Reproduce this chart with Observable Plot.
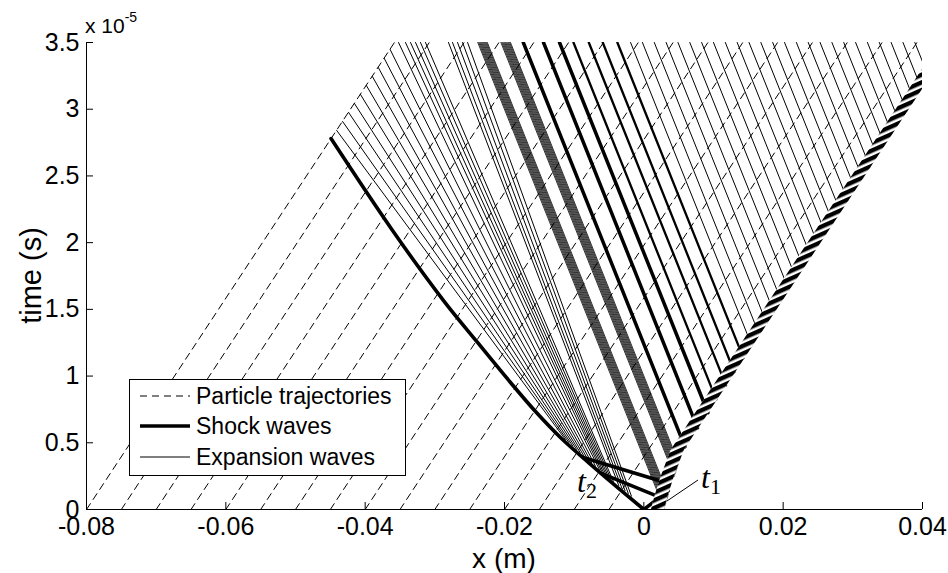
<!DOCTYPE html>
<html><head><meta charset="utf-8">
<script src="https://cdn.jsdelivr.net/npm/d3@7"></script>
<script src="https://cdn.jsdelivr.net/npm/@observablehq/plot@0.6"></script>
<style>body{margin:0;background:#fff}#chart{width:948px;height:573px}</style>
</head><body><div id="chart"></div>
<script>
// ---------- data (x in m, t in units of 1e-5 s) ----------
const xTicks = [-0.08, -0.06, -0.04, -0.02, 0, 0.02, 0.04];
const xTickLabels = ["-0.08", "-0.06", "-0.04", "-0.02", "0", "0.02", "0.04"];
const yTicks = [0, 0.5, 1, 1.5, 2, 2.5, 3, 3.5];
const yTickLabels = ["0", "0.5", "1", "1.5", "2", "2.5", "3", "3.5"];

// particle trajectories: position at t = 0 and at t = 3.5
const particleStartX = [-0.080, -0.075, -0.070, -0.065, -0.060, -0.055, -0.050, -0.045, -0.040, -0.035, -0.030, -0.025, -0.020, -0.015, -0.010, -0.005];
const particleEndX = [-0.0358, -0.0308, -0.0258, -0.0208, -0.0158, -0.0108, -0.0058, -0.0008, 0.0042, 0.0092, 0.0142, 0.0192, 0.0242, 0.0292, 0.0342, 0.0392];

// leading shock
const leadShockX = [0, -0.00392, -0.00794, -0.01182, -0.01555, -0.01914, -0.02387, -0.02875, -0.03607, -0.0449];
const leadShockT = [0, 0.172, 0.352, 0.532, 0.734, 0.952, 1.252, 1.566, 2.091, 2.780];

// piston (right boundary)
const pistonX = [0.0030, 0.0035, 0.0043, 0.0058, 0.0402, 0.0444];
const pistonT = [0, 0.10, 0.232, 0.442, 3.163, 3.5];

// shock waves in the fan: start (x,t) -> x at top
const fanShockStartX = [0.0059, 0.0077, 0.0092];
const fanShockStartT = [0.470, 0.611, 0.725];
const fanShockTopX = [-0.0173, -0.0144, -0.0121];
const weakShockStartX = [0.0104, 0.0118, 0.0130, 0.0143];
const weakShockStartT = [0.824, 0.930, 1.029, 1.134];
const weakShockTopX = [-0.0101, -0.0079, -0.0059, -0.0038];
// short shocks near the origin: start -> end
const lowShockStartX = [0, 0.0028, 0.0036];
const lowShockStartT = [0, 0.082, 0.195];
const lowShockEndX = [0.0035, -0.0061, -0.0087];
const lowShockEndT = [0.14, 0.270, 0.390];

// expansion waves leaving the piston: start (x,t) -> x at top
const pistonWaveStartX = [0.01551, 0.01657, 0.01763, 0.01868, 0.01974, 0.02081, 0.02187, 0.02292, 0.02398, 0.02504, 0.02610, 0.02715, 0.02821, 0.02927, 0.03034, 0.03139, 0.03245, 0.03351, 0.03456, 0.03562, 0.03668, 0.03774, 0.03879, 0.03985, 0.04092, 0.04198];
const pistonWaveStartT = [1.227, 1.311, 1.395, 1.478, 1.562, 1.646, 1.730, 1.813, 1.897, 1.981, 2.065, 2.148, 2.232, 2.316, 2.400, 2.483, 2.567, 2.651, 2.734, 2.818, 2.902, 2.986, 3.069, 3.153, 3.237, 3.321];
const pistonWaveTopX = [-0.0019, -0.0002, 0.0015, 0.0032, 0.0049, 0.0066, 0.0083, 0.0100, 0.0117, 0.0134, 0.0151, 0.0168, 0.0185, 0.0202, 0.0219, 0.0236, 0.0253, 0.0270, 0.0287, 0.0304, 0.0321, 0.0338, 0.0355, 0.0372, 0.0389, 0.0406];

// dense expansion bundles from the foot of the piston
const denseWaveStartX = [0.00289, 0.00296, 0.00302, 0.00308, 0.00314, 0.00320, 0.00326, 0.00333, 0.00339, 0.00345, 0.00351, 0.00438, 0.00444, 0.00450, 0.00456, 0.00462, 0.00468, 0.00475, 0.00481, 0.00487, 0.00493, 0.00499];
const denseWaveStartT = [0.01, 0.02, 0.03, 0.04, 0.05, 0.06, 0.07, 0.08, 0.09, 0.10, 0.11, 0.25, 0.26, 0.27, 0.28, 0.29, 0.30, 0.31, 0.32, 0.33, 0.34, 0.35];
const denseWaveTopX = [-0.02384, -0.02370, -0.02356, -0.02342, -0.02329, -0.02315, -0.02301, -0.02287, -0.02273, -0.02259, -0.02246, -0.02052, -0.02038, -0.02024, -0.02010, -0.01997, -0.01983, -0.01969, -0.01955, -0.01941, -0.01927, -0.01914];

// expansion waves just behind the leading shock, ending on the free boundary
const boundaryWaveStartX = [-0.01127, -0.01073, -0.01019, -0.00965, -0.00912, -0.00858, -0.00804, -0.00750, -0.00694, -0.00638];
const boundaryWaveStartT = [0.525, 0.500, 0.475, 0.450, 0.425, 0.400, 0.375, 0.350, 0.325, 0.300];
const boundaryWaveEndX = [-0.04409, -0.04324, -0.04238, -0.04154, -0.04068, -0.03983, -0.03897, -0.03812, -0.03726, -0.03642];
const boundaryWaveEndT = [2.841, 2.908, 2.976, 3.043, 3.111, 3.178, 3.246, 3.313, 3.381, 3.448];
// expansion waves behind the shock reaching the top
const rearWaveStartX = [-0.00604, -0.00571, -0.00537, -0.00504, -0.00470, -0.00437, -0.00360, -0.00315, -0.00269, -0.00223, -0.00178];
const rearWaveStartT = [0.285, 0.270, 0.255, 0.240, 0.225, 0.210, 0.180, 0.160, 0.140, 0.120, 0.100];
const rearWaveTopX = [-0.03521, -0.03421, -0.03349, -0.03277, -0.03206, -0.03134, -0.02804, -0.02746, -0.02674, -0.02602, -0.02530];

const T_TOP = 3.5;

// ---------- build rows ----------
const seg = (id, x1, t1, x2, t2) => [{id, x: x1, t: t1}, {id, x: x2, t: t2}];
const particles = particleStartX.flatMap((x0, i) => seg("p" + i, x0, 0, particleEndX[i], T_TOP));
const leadShock = leadShockX.map((x, i) => ({x, t: leadShockT[i]}));
const piston = pistonX.map((x, i) => ({x, t: pistonT[i]}));
const bandW = 0.0019;

const thinWaves = [
  ...pistonWaveStartX.flatMap((x, i) => seg("w" + i, x, pistonWaveStartT[i], pistonWaveTopX[i], T_TOP)),
  ...boundaryWaveStartX.flatMap((x, i) => seg("b" + i, x, boundaryWaveStartT[i], boundaryWaveEndX[i], boundaryWaveEndT[i])),
  ...rearWaveStartX.flatMap((x, i) => seg("r" + i, x, rearWaveStartT[i], rearWaveTopX[i], T_TOP))
];
const denseWaves = denseWaveStartX.flatMap((x, i) => seg("d" + i, x, denseWaveStartT[i], denseWaveTopX[i], T_TOP));
const thickShocks = [
  ...fanShockStartX.flatMap((x, i) => seg("s" + i, x, fanShockStartT[i], fanShockTopX[i], T_TOP)),
  ...lowShockStartX.flatMap((x, i) => seg("l" + i, x, lowShockStartT[i], lowShockEndX[i], lowShockEndT[i]))
];
const weakShocks = weakShockStartX.flatMap((x, i) => seg("k" + i, x, weakShockStartT[i], weakShockTopX[i], T_TOP));

const FONT = "'Liberation Sans', Arial, Helvetica, sans-serif";
const W = 948, H = 573, ML = 86, MR = 26, MT = 42, MB = 64;
const fw = W - ML - MR, fh = H - MT - MB;

const plot = Plot.plot({
  width: W, height: H,
  marginLeft: ML, marginRight: MR, marginTop: MT, marginBottom: MB,
  style: {fontFamily: FONT, fontSize: "25px", color: "black", background: "white"},
  x: {domain: [-0.08, 0.04]},
  y: {domain: [0, 3.5]},
  marks: [
    Plot.line(particles, {x: "x", y: "t", z: "id", stroke: "black", strokeWidth: 1, strokeDasharray: "7,5", clip: true}),
    Plot.line(thinWaves, {x: "x", y: "t", z: "id", stroke: "black", strokeWidth: 1, clip: true}),
    Plot.line(denseWaves, {x: "x", y: "t", z: "id", stroke: "black", strokeWidth: 0.8, clip: true}),
    Plot.line(weakShocks, {x: "x", y: "t", z: "id", stroke: "black", strokeWidth: 2.3, clip: true}),
    Plot.line(thickShocks, {x: "x", y: "t", z: "id", stroke: "black", strokeWidth: 3.5, clip: true}),
    Plot.line(leadShock, {x: "x", y: "t", stroke: "black", strokeWidth: 3.6, curve: "catmull-rom", clip: true}),
    Plot.areaX(piston, {y: "t", x1: d => d.x - bandW, x2: "x", fill: "white", clip: true}),
    Plot.areaX(piston, {y: "t", x1: d => d.x - bandW, x2: "x", fill: "url(#hatch)", clip: true}),
    Plot.ruleX([-0.08], {stroke: "black", strokeWidth: 1}),
    Plot.ruleY([0], {stroke: "black", strokeWidth: 1}),
    Plot.tickX(xTicks, {x: d => d, stroke: "black", insetTop: fh - 7}),
    Plot.tickY(yTicks, {y: d => d, stroke: "black", insetRight: fw - 7}),
    Plot.axisX({ticks: xTicks, tickSize: 0, tickPadding: 8, tickFormat: d => xTickLabels[xTicks.indexOf(d)], label: null}),
    Plot.axisY({ticks: yTicks, tickSize: 0, tickPadding: 7, tickFormat: d => yTickLabels[yTicks.indexOf(d)], label: null})
  ]
});

const svg = d3.select(plot);
const defs = svg.insert("defs", ":first-child");
const pat = defs.append("pattern").attr("id", "hatch").attr("patternUnits", "userSpaceOnUse")
  .attr("width", 12).attr("height", 7).attr("patternTransform", "rotate(-24)");
pat.append("rect").attr("width", 12).attr("height", 4.4).attr("fill", "black");

// axis labels
svg.append("text").attr("x", (ML + W - MR) / 2).attr("y", 568).attr("text-anchor", "middle")
  .attr("font-family", FONT).attr("font-size", 28).text("x (m)");
svg.append("text").attr("transform", `translate(41,${(MT + H - MB) / 2}) rotate(-90)`).attr("text-anchor", "middle")
  .attr("font-family", FONT).attr("font-size", 29).text("time (s)");
const sc = svg.append("text").attr("x", 85).attr("y", 33).attr("text-anchor", "start").attr("font-family", FONT).attr("font-size", 21);
sc.append("tspan").text("x 10");
sc.append("tspan").attr("font-size", 14).attr("dy", -11).text("-5");

// t1 / t2 annotations
const SERIF = "'Liberation Serif', 'DejaVu Serif', serif";
const t2 = svg.append("text").attr("x", 577).attr("y", 492).attr("text-anchor", "start").attr("font-family", SERIF).attr("font-style", "italic").attr("font-size", 32);
t2.append("tspan").text("t");
t2.append("tspan").attr("font-style", "normal").attr("font-size", 22).attr("dy", 6).text("2");
const t1 = svg.append("text").attr("x", 701).attr("y", 488).attr("text-anchor", "start").attr("font-family", SERIF).attr("font-style", "italic").attr("font-size", 32);
t1.append("tspan").text("t");
t1.append("tspan").attr("font-style", "normal").attr("font-size", 22).attr("dy", 6).text("1");
svg.append("line").attr("x1", 667).attr("y1", 501).attr("x2", 698).attr("y2", 480).attr("stroke", "black").attr("stroke-width", 1);

// legend
const lg = svg.append("g").attr("font-family", FONT).attr("font-size", 23).attr("text-anchor", "start");
lg.append("rect").attr("x", 129.5).attr("y", 379.5).attr("width", 276).attr("height", 96).attr("fill", "white").attr("stroke", "black").attr("stroke-width", 1);
const items = [
  {label: "Particle trajectories", y: 396, w: 1, dash: "7,5"},
  {label: "Shock waves", y: 426, w: 3.5, dash: null},
  {label: "Expansion waves", y: 457, w: 1, dash: null}
];
items.forEach(it => {
  lg.append("line").attr("x1", 140).attr("x2", 190).attr("y1", it.y).attr("y2", it.y)
    .attr("stroke", "black").attr("stroke-width", it.w).attr("stroke-dasharray", it.dash);
  lg.append("text").attr("x", 196).attr("y", it.y + 8).text(it.label);
});

document.getElementById("chart").appendChild(plot);
</script></body></html>
